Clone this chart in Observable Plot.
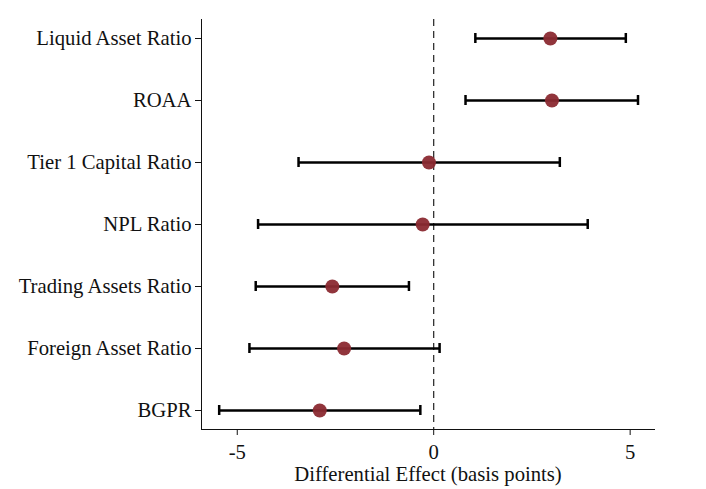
<!DOCTYPE html>
<html>
<head>
<meta charset="utf-8">
<script src="https://cdn.jsdelivr.net/npm/d3@7"></script>
<script src="https://cdn.jsdelivr.net/npm/@observablehq/plot@0.6"></script>
<style>
  html, body { margin: 0; padding: 0; background: #fff; }
  #chart svg { display: block; }
</style>
</head>
<body>
<div id="chart"></div>
<script>
// Bank characteristics, top to bottom
const variables = [
  "Liquid Asset Ratio",
  "ROAA",
  "Tier 1 Capital Ratio",
  "NPL Ratio",
  "Trading Assets Ratio",
  "Foreign Asset Ratio",
  "BGPR"
];
// Point estimates and confidence bounds (basis points)
const estimates = [2.97, 3.01, -0.12, -0.28, -2.58, -2.28, -2.90];
const lower     = [1.06, 0.81, -3.44, -4.47, -4.53, -4.69, -5.46];
const upper     = [4.89, 5.20,  3.21,  3.92, -0.63,  0.15, -0.34];
const xTicks = [-5, 0, 5];
const xTitle = "Differential Effect (basis points)";

const rows = variables.map((name, i) => ({
  name, est: estimates[i], lo: lower[i], hi: upper[i]
}));

const font = "'Liberation Serif', 'Times New Roman', serif";

const chart = Plot.plot({
  width: 706,
  height: 489,
  marginLeft: 201,
  marginRight: 52,
  marginTop: 19,
  marginBottom: 60,
  style: { fontFamily: font, fontSize: "20.7px", color: "#111", background: "#fff" },
  x: {
    domain: [-5.91, 5.62],
    ticks: xTicks,
    tickFormat: d => String(d),
    tickSize: 6,
    tickPadding: 9,
    line: true,
    label: null
  },
  y: {
    type: "band",
    domain: variables,
    paddingInner: 1,
    paddingOuter: 0.285,
    tickSize: 6,
    tickPadding: 4,
    line: true,
    label: null
  },
  marks: [
    Plot.ruleX([0], { stroke: "#222", strokeWidth: 1.2, strokeDasharray: "7,5" }),
    Plot.ruleY(rows, { y: "name", x1: "lo", x2: "hi", stroke: "#000", strokeWidth: 2.5 }),
    Plot.tickX(rows, { x: "lo", y: "name", stroke: "#000", strokeWidth: 2.5, insetTop: -5, insetBottom: -5 }),
    Plot.tickX(rows, { x: "hi", y: "name", stroke: "#000", strokeWidth: 2.5, insetTop: -5, insetBottom: -5 }),
    Plot.dot(rows, { x: "est", y: "name", r: 7, fill: "#8b2a31", fillOpacity: 0.95, stroke: "none" }),
    // x-axis title, centred under the plot area
    Plot.text([xTitle], { frameAnchor: "bottom", lineAnchor: "middle", dy: 45, fill: "#111", fontSize: 20.7 })
  ]
});

document.getElementById("chart").append(chart);
</script>
</body>
</html>
